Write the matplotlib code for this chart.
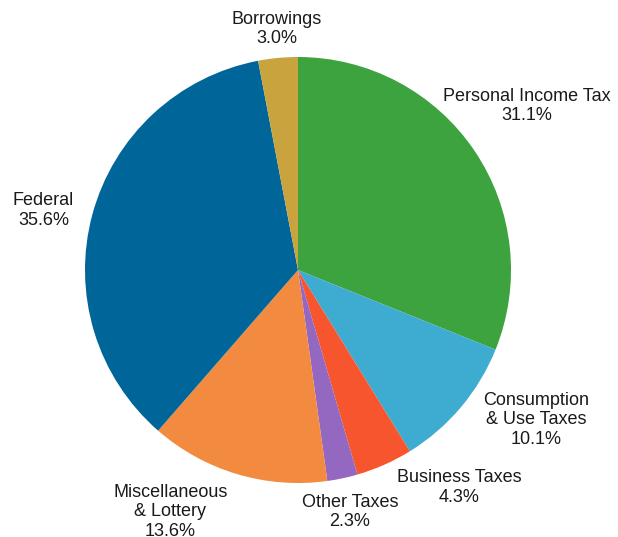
import matplotlib
matplotlib.use("Agg")
import matplotlib.pyplot as plt

categories = ["Personal Income Tax", "Consumption\n& Use Taxes", "Business Taxes",
              "Other Taxes", "Miscellaneous\n& Lottery", "Federal", "Borrowings"]
values = [31.1, 10.1, 4.3, 2.3, 13.6, 35.6, 3.0]
colors = ["#3da33f", "#3eabd1", "#f7552e", "#9467c0", "#f28a40", "#006699", "#c9a33e"]
# label centre offsets from pie centre, in units of the radius
label_offsets = [(1.075, 0.77), (1.117, -0.704), (0.756, -1.021), (0.244, -1.136),
                 (-0.599, -1.136), (-1.195, 0.28), (-0.10, 1.131)]

plt.rcParams['font.family'] = ['Liberation Sans', 'DejaVu Sans']
W, H = 618, 537
fig = plt.figure(figsize=(W / 100, H / 100), dpi=100)
ax = fig.add_axes([0, 0, 1, 1])

cx, cy, r = 298, 267, 213
ax.pie(values, colors=colors, startangle=90, counterclock=False,
       center=(cx, cy), radius=r, frame=True,
       wedgeprops=dict(linewidth=0))
ax.set_xlim(0, W)
ax.set_ylim(0, H)
ax.set_aspect('equal')
ax.axis('off')

for cat, v, (ox, oy) in zip(categories, values, label_offsets):
    ax.text(cx + ox * r, cy + oy * r, f"{cat}\n{v:.1f}%", ha='center', va='center',
            fontsize=13, color='#1a1a1a', linespacing=1.18)

fig.savefig("out.png", dpi=100)
